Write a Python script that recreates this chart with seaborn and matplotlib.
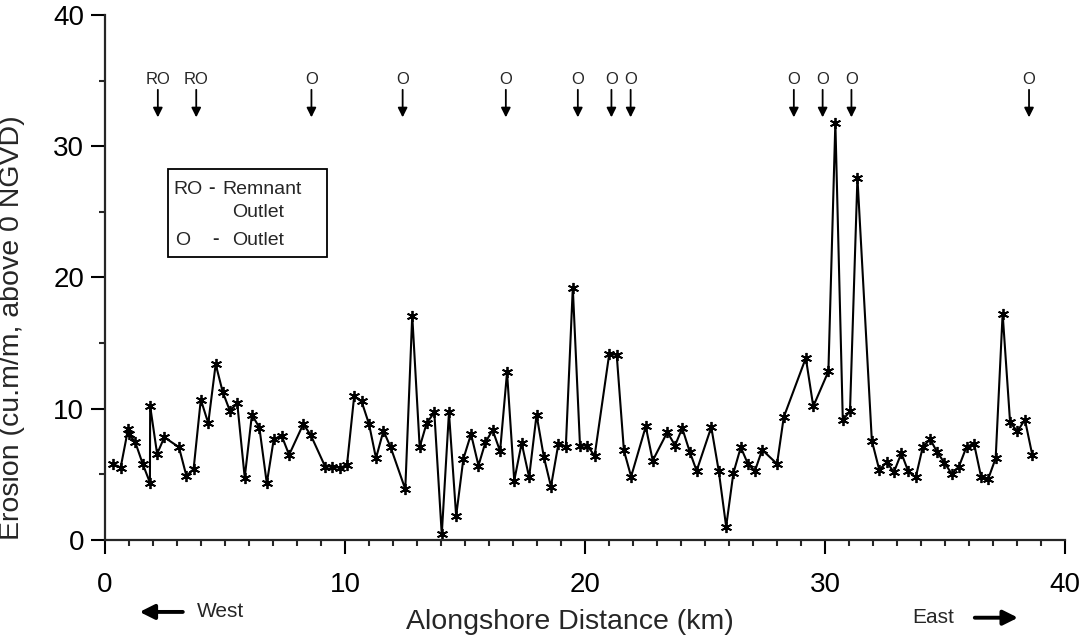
import matplotlib
matplotlib.use('Agg')
import matplotlib.pyplot as plt
from matplotlib.patches import Rectangle
from matplotlib.ticker import MultipleLocator
import seaborn as sns
import pandas as pd

# alongshore distance (km) and erosion (cu.m/m above 0 NGVD)
distance_km = [0.35, 0.65, 0.96, 0.98, 1.26, 1.57, 1.87, 1.88, 2.17, 2.47,
               3.08, 3.39, 3.69, 3.99, 4.30, 4.61, 4.90, 5.20, 5.51, 5.82,
               6.12, 6.43, 6.74, 7.03, 7.36, 7.67, 8.26, 8.57, 9.17, 9.47,
               9.78, 10.08, 10.38, 10.69, 11.00, 11.29, 11.60, 11.90, 12.51, 12.80,
               13.11, 13.40, 13.72, 14.03, 14.33, 14.63, 14.93, 15.25, 15.56, 15.85,
               16.15, 16.46, 16.75, 17.05, 17.36, 17.67, 17.98, 18.28, 18.58, 18.89,
               19.20, 19.49, 19.79, 20.10, 20.40, 21.01, 21.32, 21.62, 21.92, 22.53,
               22.82, 23.43, 23.75, 24.05, 24.36, 24.65, 25.26, 25.57, 25.88, 26.18,
               26.49, 26.79, 27.08, 27.38, 28.00, 28.28, 29.20, 29.51, 30.14, 30.43,
               30.74, 31.04, 31.35, 31.95, 32.26, 32.57, 32.87, 33.18, 33.47, 33.78,
               34.07, 34.38, 34.68, 34.97, 35.28, 35.58, 35.90, 36.21, 36.50, 36.80,
               37.11, 37.40, 37.71, 38.01, 38.33, 38.64]
erosion = [5.78, 5.52, 8.45, 8.1, 7.45, 5.8, 4.37, 10.2, 6.56, 7.83,
           7.07, 4.88, 5.4, 10.7, 8.9, 13.4, 11.3, 9.85, 10.4, 4.76,
           9.54, 8.57, 4.32, 7.68, 7.94, 6.49, 8.83, 8.0, 5.6, 5.6,
           5.5, 5.7, 10.94, 10.56, 8.83, 6.23, 8.32, 7.07, 3.87, 17.1,
           7.07, 8.9, 9.72, 0.43, 9.72, 1.83, 6.18, 8.07, 5.67, 7.45,
           8.37, 6.77, 12.77, 4.53, 7.38, 4.78, 9.54, 6.36, 4.07, 7.33,
           7.12, 19.21, 7.2, 7.18, 6.41, 14.2, 14.1, 6.82, 4.83, 8.65,
           6.05, 8.22, 7.2, 8.52, 6.74, 5.27, 8.6, 5.27, 1.02, 5.09,
           7.07, 5.78, 5.27, 6.87, 5.8, 9.36, 13.87, 10.18, 12.85, 31.8,
           9.16, 9.8, 27.6, 7.58, 5.34, 5.93, 5.17, 6.62, 5.22, 4.78,
           7.07, 7.68, 6.67, 5.9, 5.04, 5.6, 7.12, 7.33, 4.83, 4.66,
           6.23, 17.25, 8.98, 8.27, 9.16, 6.44]

# outlet locations marked at the top
outlet_km = [2.2, 3.8, 8.6, 12.4, 16.7, 19.7, 21.1, 21.9, 28.7, 29.9, 31.1, 38.5]
outlet_labels = ['RO', 'RO', 'O', 'O', 'O', 'O', 'O', 'O', 'O', 'O', 'O', 'O']

df = pd.DataFrame({'km': distance_km, 'erosion': erosion})

sns.set_style('ticks')
plt.rcParams['font.family'] = ['Liberation Sans', 'DejaVu Sans']

fig, ax = plt.subplots(figsize=(10.84, 6.35), dpi=100)
fig.subplots_adjust(left=0.0969, right=0.9825, bottom=0.1496, top=0.9764)

sns.lineplot(data=df, x='km', y='erosion', sort=False, estimator=None,
             color='black', lw=1.5, marker=(6, 2, 0), markersize=8,
             markeredgecolor='black', markeredgewidth=1.3, ax=ax)

ax.set_xlim(0, 40)
ax.set_ylim(0, 40)
sns.despine(ax=ax)
for s in ['left', 'bottom']:
    ax.spines[s].set_linewidth(1.6)

ax.xaxis.set_major_locator(MultipleLocator(10))
ax.xaxis.set_minor_locator(MultipleLocator(1))
ax.yaxis.set_major_locator(MultipleLocator(10))
ax.yaxis.set_minor_locator(MultipleLocator(5))
ax.tick_params(which='major', length=10, width=1.5, direction='out', labelsize=20, colors='black')
ax.tick_params(which='minor', length=4.5, width=1.5, direction='out')
ax.tick_params(axis='x', which='major', pad=13)
ax.tick_params(axis='y', which='major', pad=5)

ax.set_xlabel('Alongshore Distance (km)', fontsize=20.5)
ax.set_ylabel('Erosion (cu.m/m, above 0 NGVD)', fontsize=20.5)
ax.xaxis.set_label_coords(0.484, -0.132)
ax.yaxis.set_label_coords(-0.083, 0.405)

# outlet markers
for xk, lab in zip(outlet_km, outlet_labels):
    ax.text(xk, 35.1, lab, ha='center', va='center', fontsize=12)
    ax.annotate('', xy=(xk, 32.2), xytext=(xk, 34.3),
                arrowprops=dict(arrowstyle='-|>', color='black', lw=1.3,
                                mutation_scale=14, shrinkA=0, shrinkB=0))

# key box
ax.add_patch(Rectangle((0.0656, 0.539), 0.166, 0.168, transform=ax.transAxes,
                       fill=False, edgecolor='black', lw=1.3, clip_on=False))
ax.text(0.0708, 0.667, 'RO', transform=ax.transAxes, fontsize=14, va='center')
ax.text(0.1075, 0.669, '-', transform=ax.transAxes, fontsize=14, va='center', fontweight='bold')
ax.text(0.1225, 0.667, 'Remnant', transform=ax.transAxes, fontsize=14, va='center')
ax.text(0.132, 0.623, 'Outlet', transform=ax.transAxes, fontsize=14, va='center')
ax.text(0.0735, 0.571, 'O', transform=ax.transAxes, fontsize=14, va='center')
ax.text(0.1115, 0.573, '-', transform=ax.transAxes, fontsize=14, va='center', fontweight='bold')
ax.text(0.132, 0.571, 'Outlet', transform=ax.transAxes, fontsize=14, va='center')

# direction arrows below the axis
ax.annotate('', xy=(0.036, -0.137), xytext=(0.081, -0.137), xycoords='axes fraction',
            arrowprops=dict(arrowstyle='-|>', color='black', lw=2.8, mutation_scale=22,
                            shrinkA=0, shrinkB=0), annotation_clip=False)
ax.text(0.096, -0.137, 'West', transform=ax.transAxes, fontsize=15, va='center')
ax.text(0.841, -0.148, 'East', transform=ax.transAxes, fontsize=15, va='center')
ax.annotate('', xy=(0.951, -0.148), xytext=(0.906, -0.148), xycoords='axes fraction',
            arrowprops=dict(arrowstyle='-|>', color='black', lw=2.8, mutation_scale=22,
                            shrinkA=0, shrinkB=0), annotation_clip=False)

fig.savefig('out.png', dpi=100)
